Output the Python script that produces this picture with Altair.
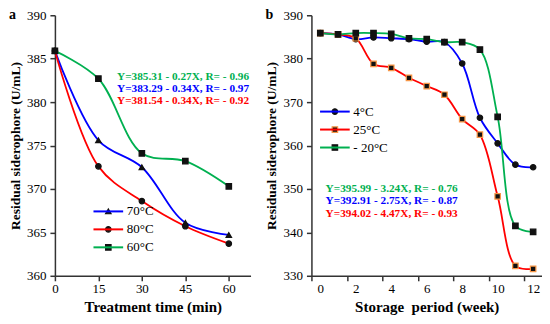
import altair as alt
import pandas as pd

FONT = "Liberation Serif"

# ---------------- Panel a data ----------------
a_time = [0, 15, 30, 45, 60]
a_70 = [385.9, 375.6, 372.5, 366.1, 364.7]
a_80 = [385.9, 372.6, 368.6, 365.7, 363.7]
a_60 = [385.9, 382.7, 374.1, 373.2, 370.3]
a_series = ["70°C", "80°C", "60°C"]
a_colors = ["#0000FF", "#FF0000", "#00B050"]
a_shapes = ["triangle-up", "circle", "square"]
a_mstroke = ["#111111", "#111111", "#111111"]
a_eq_text = ["Y=385.31 - 0.27X, R= - 0.96", "Y=383.29 - 0.34X, R= - 0.97", "Y=381.54 - 0.34X, R= - 0.92"]
a_eq_color = ["#00B050", "#0000FF", "#FF0000"]
a_eq_x = [67.0, 67.0, 67.0]
a_eq_y = [382.9, 381.5, 380.1]
a_xticks = [0, 15, 30, 45, 60]
a_yticks = [360, 365, 370, 375, 380, 385, 390]

# ---------------- Panel b data ----------------
b_week = list(range(13))
b_4 = [385.9, 385.6, 384.5, 384.9, 384.7, 384.5, 383.9, 383.8, 378.9, 366.4, 360.5, 355.6, 355.0]
b_25 = [385.9, 385.6, 384.7, 378.8, 377.9, 375.6, 373.7, 371.7, 366.1, 362.5, 348.3, 332.3, 331.6]
b_m20 = [385.9, 385.6, 385.9, 385.9, 385.7, 384.7, 384.5, 383.8, 383.8, 382.1, 366.6, 341.5, 340.1]
b_series = ["4°C", "25°C", "\u2002- 20°C"]
b_colors = ["#0000FF", "#FF0000", "#00B050"]
b_shapes = ["circle", "square", "square"]
b_mstroke = ["#111111", "#F79646", "#111111"]
b_eq_text = ["Y=395.99 - 3.24X, R= - 0.76", "Y=392.91 - 2.75X, R= - 0.87", "Y=394.02 - 4.47X, R= - 0.93"]
b_eq_color = ["#00B050", "#0000FF", "#FF0000"]
b_eq_x = [0.3, 0.3, 0.3]
b_eq_y = [350.1, 347.2, 344.3]
b_xticks = [-0.5, 1.5, 3.5, 5.5, 7.5, 9.5, 11.5]
b_yticks = [330, 340, 350, 360, 370, 380, 390]


def long_df(xs, series_names, series_vals, field):
    rows = []
    for name, vals in zip(series_names, series_vals):
        for x, v in zip(xs, vals):
            rows.append({"x": x, "y": v, field: name, field + "_m": name})
    return pd.DataFrame(rows)


def panel(df, field, names, colors, shapes, mstroke, eq_text, eq_color, eq_x, eq_y,
          xdom, ydom, xticks, yticks, xtitle, letter, w, h, leg_x, leg_y, xaxis_extra):
    xaxis = alt.Axis(values=xticks, title=xtitle, grid=False, tickSize=5, labelPadding=2,
                     titlePadding=4, labelFlush=False, labelOverlap=False, **xaxis_extra)
    yaxis = alt.Axis(values=yticks, title="Residual siderophore (U/mL)", grid=False,
                     tickSize=5, labelPadding=4, titlePadding=4, titleFontSize=13.5)
    xenc = alt.X("x:Q", scale=alt.Scale(domain=xdom, nice=False, zero=False), axis=xaxis)
    yenc = alt.Y("y:Q", scale=alt.Scale(domain=ydom, nice=False, zero=False), axis=yaxis)

    line_legend = alt.Legend(orient="none", legendX=leg_x, legendY=leg_y, title=None,
                             symbolType="M-4.7,0H4.7", symbolSize=40, symbolStrokeWidth=2,
                             labelFont=FONT, labelFontSize=13, labelColor="black",
                             labelOffset=12, rowPadding=4, padding=0)
    mark_legend = alt.Legend(orient="none", legendX=leg_x, legendY=leg_y, title=None,
                             symbolSize=30, symbolStrokeWidth=1.2, symbolFillColor="#111111",
                             labelFont=FONT, labelFontSize=13, labelOpacity=0,
                             labelOffset=12, rowPadding=4, padding=0)

    base = alt.Chart(df)
    lines = base.mark_line(interpolate="catmull-rom", strokeWidth=1.8).encode(
        x=xenc, y=yenc,
        color=alt.Color(field + ":N", scale=alt.Scale(domain=names, range=colors), legend=line_legend),
        detail=field + ":N",
    )
    points = base.mark_point(filled=True, size=30, fill="#111111", strokeWidth=1.2, opacity=1).encode(
        x=xenc, y=yenc,
        shape=alt.Shape(field + "_m:N", scale=alt.Scale(domain=names, range=shapes), legend=mark_legend),
        stroke=alt.Stroke(field + "_m:N", scale=alt.Scale(domain=names, range=mstroke), legend=mark_legend),
    )
    eq_df = pd.DataFrame({"x": eq_x, "y": eq_y, "t": eq_text, "c": eq_color})
    align = "right" if eq_x[0] > xdom[1] * 0.5 else "left"
    eqs = alt.Chart(eq_df).mark_text(font=FONT, fontSize=11.3, fontWeight="bold", align=align,
                                     baseline="middle").encode(
        x=alt.X("x:Q", scale=alt.Scale(domain=xdom, nice=False, zero=False), axis=xaxis),
        y=alt.Y("y:Q", scale=alt.Scale(domain=ydom, nice=False, zero=False), axis=yaxis),
        text="t:N", color=alt.Color("c:N", scale=None),
    )
    lab = alt.Chart(pd.DataFrame({"t": [letter]})).mark_text(
        font=FONT, fontSize=14, fontWeight="bold", align="left", baseline="middle", color="black"
    ).encode(x=alt.value(-46), y=alt.value(0), text="t:N")

    return alt.layer(lines, points, eqs, lab).properties(width=w, height=h).resolve_scale(
        color="independent")


df_a = long_df(a_time, a_series, [a_70, a_80, a_60], "ta")
df_b = long_df(b_week, b_series, [b_4, b_25, b_m20], "tb")

pa = panel(df_a, "ta", a_series, a_colors, a_shapes, a_mstroke, a_eq_text, a_eq_color, a_eq_x, a_eq_y,
           [0, 67.5], [360, 390], a_xticks, a_yticks, "Treatment time (min)", "a",
           196, 261, 47, 190, {})
pb = panel(df_b, "tb", b_series, b_colors, b_shapes, b_mstroke, b_eq_text, b_eq_color, b_eq_x, b_eq_y,
           [-0.5, 12.5], [330, 390], b_xticks, b_yticks, "Storage\u00a0 period (week)", "b",
           231, 261, 17, 90,
           {"labelExpr": "format(datum.value + 0.5, 'd')", "labelOffset": 8.9})

chart = alt.hconcat(pa, pb, spacing=14).resolve_scale(
    color="independent", shape="independent", stroke="independent", x="independent", y="independent"
).resolve_legend(color="independent", shape="independent", stroke="independent").properties(
    padding=0, background="white"
).configure_view(stroke=None).configure_axis(
    labelFont=FONT, labelFontSize=13, labelColor="black", titleFont=FONT, titleFontSize=15,
    titleFontWeight="bold", titleColor="black", domainColor="#333333", domainWidth=1.5,
    tickColor="#333333", tickWidth=1.5
)

chart.save("out.html", embed_options={"renderer": "svg", "actions": False})
